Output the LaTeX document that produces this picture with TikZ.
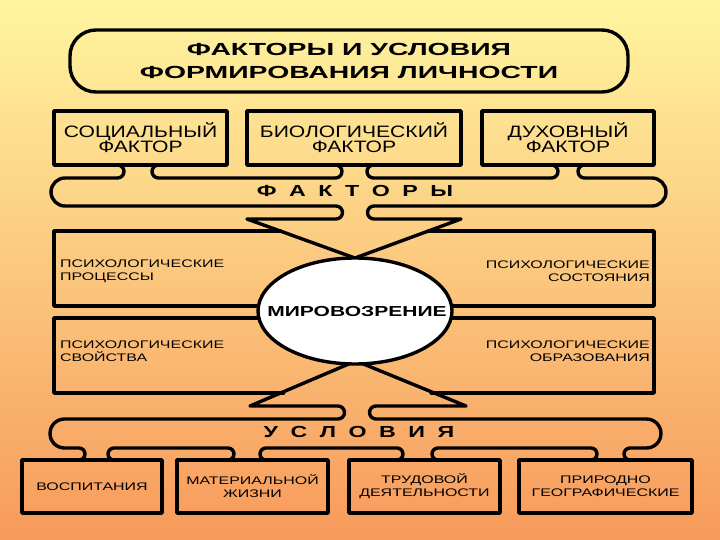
\documentclass[tikz,border=0pt]{standalone}
\usepackage{fontspec}
\setmainfont{Liberation Sans}
\newfontfamily\widef[FakeStretch=1.45]{Liberation Sans}
\newfontfamily\titlef[FakeStretch=1.62]{Liberation Sans}
\newfontfamily\midf[FakeStretch=1.28]{Liberation Sans}
\usetikzlibrary{shapes.geometric}
\definecolor{bgtop}{HTML}{FFF5A0}
\definecolor{bgbot}{HTML}{F79A5C}
\newcommand{\lsp}{\hspace{12.5pt}}
\begin{document}
\begin{tikzpicture}[x=1pt,y=-1pt,line join=round,line cap=round,
  box/.style={draw,rectangle,inner sep=0pt,line width=3.4pt,align=center},
  lbl/.style={inner sep=0pt},
  brace/.style={draw,line width=3.4pt},
  topfont/.style={font=\midf\fontsize{16.5}{15}\selectfont},
  smallfont/.style={font=\widef\fontsize{11}{13}\selectfont},
  spacedfont/.style={font=\widef\bfseries\fontsize{16}{18}\selectfont}]
\useasboundingbox (0,0) rectangle (720,540);
\shade[top color=bgtop,bottom color=bgbot] (0,0) rectangle (720,540);

% title
\node[box,rounded corners=26pt,minimum width=558pt,minimum height=62pt,
  font=\titlef\bfseries\fontsize{17.5}{23}\selectfont] (title) at (349,61)
  {ФАКТОРЫ И УСЛОВИЯ\\ФОРМИРОВАНИЯ ЛИЧНОСТИ};

% top boxes
\node[box,topfont,minimum width=173pt,minimum height=54pt] (soc) at (140.5,138) {СОЦИАЛЬНЫЙ\\ФАКТОР};
\node[box,topfont,minimum width=214pt,minimum height=54pt] (bio) at (354,138) {БИОЛОГИЧЕСКИЙ\\ФАКТОР};
\node[box,topfont,minimum width=172pt,minimum height=54pt] (duh) at (568,138) {ДУХОВНЫЙ\\ФАКТОР};

% factors brace
\path[brace] (117.5,165) arc[start angle=-90,end angle=90,radius=6.5]
  -- (65,178) arc[start angle=-90,end angle=-270,radius=14]
  -- (336,206) arc[start angle=-90,end angle=90,radius=6.5]
  -- (247,219) -- (359,259.5);
\path[brace] (158.5,165) arc[start angle=270,end angle=90,radius=6.5]
  -- (335.5,178) arc[start angle=90,end angle=-90,radius=6.5];
\path[brace] (373.5,165) arc[start angle=270,end angle=90,radius=6.5]
  -- (551.5,178) arc[start angle=90,end angle=-90,radius=6.5];
\path[brace] (584.5,165) arc[start angle=270,end angle=90,radius=6.5]
  -- (652,178) arc[start angle=-90,end angle=90,radius=14]
  -- (374,206) arc[start angle=270,end angle=90,radius=6.5]
  -- (461,219) -- (351,259.5);
\node[lbl,spacedfont] (fak) at (355,191) {Ф\lsp А\lsp К\lsp Т\lsp О\lsp Р\lsp Ы};

% psychological frames
\path[brace] (280.5,231) -- (54,231) -- (54,306) -- (654,306) -- (654,231) -- (428.7,231);
\path[brace] (283.6,393) -- (54,393) -- (54,318) -- (654,318) -- (654,393) -- (431.1,393);
\node[lbl,smallfont,align=left,anchor=west] (pp) at (60,271.5) {ПСИХОЛОГИЧЕСКИЕ\\ПРОЦЕССЫ};
\node[lbl,smallfont,align=right,anchor=east] (ps) at (650,271.5) {ПСИХОЛОГИЧЕСКИЕ\\СОСТОЯНИЯ};
\node[lbl,smallfont,align=left,anchor=west] (pv) at (60,351.5) {ПСИХОЛОГИЧЕСКИЕ\\СВОЙСТВА};
\node[lbl,smallfont,align=right,anchor=east] (po) at (650,351.5) {ПСИХОЛОГИЧЕСКИЕ\\ОБРАЗОВАНИЯ};

% conditions brace
\path[brace] (351,363) -- (250,406)
  -- (338,406) arc[start angle=-90,end angle=90,radius=6.5]
  -- (64.5,419) arc[start angle=-90,end angle=-270,radius=14.5]
  -- (79,448) arc[start angle=-90,end angle=90,radius=6];
\path[brace] (114,460) arc[start angle=90,end angle=270,radius=6]
  -- (228,448) arc[start angle=-90,end angle=90,radius=6];
\path[brace] (266,460) arc[start angle=90,end angle=270,radius=6]
  -- (397,448) arc[start angle=-90,end angle=90,radius=6];
\path[brace] (438,460) arc[start angle=90,end angle=270,radius=6]
  -- (591,448) arc[start angle=-90,end angle=90,radius=6];
\path[brace] (361,363) -- (466,406)
  -- (376,406) arc[start angle=270,end angle=90,radius=6.5]
  -- (646.5,419) arc[start angle=-90,end angle=90,radius=14.5]
  -- (630,448) arc[start angle=270,end angle=90,radius=6];
\node[lbl,spacedfont] (usl) at (359,432) {У\lsp С\lsp Л\lsp О\lsp В\lsp И\lsp Я};

% world view
\node[draw,ellipse,fill=white,line width=3.4pt,inner sep=0pt,
  minimum width=194pt,minimum height=106pt] (mir) at (355,311) {};
\node[lbl,font=\widef\bfseries\fontsize{14.5}{16}\selectfont] (mirt) at (357,312) {МИРОВОЗРЕНИЕ};

% bottom boxes
\node[box,smallfont,minimum width=140pt,minimum height=53pt] (vos) at (92,486.5) {ВОСПИТАНИЯ};
\node[box,smallfont,minimum width=151pt,minimum height=53pt] (mat) at (252.5,486.5) {МАТЕРИАЛЬНОЙ\\ЖИЗНИ};
\node[box,smallfont,minimum width=151pt,minimum height=53pt] (trud) at (424.5,486.5) {ТРУДОВОЙ\\ДЕЯТЕЛЬНОСТИ};
\node[box,smallfont,minimum width=173pt,minimum height=53pt] (prir) at (605.5,486.5) {ПРИРОДНО\\ГЕОГРАФИЧЕСКИЕ};
\end{tikzpicture}
\end{document}
